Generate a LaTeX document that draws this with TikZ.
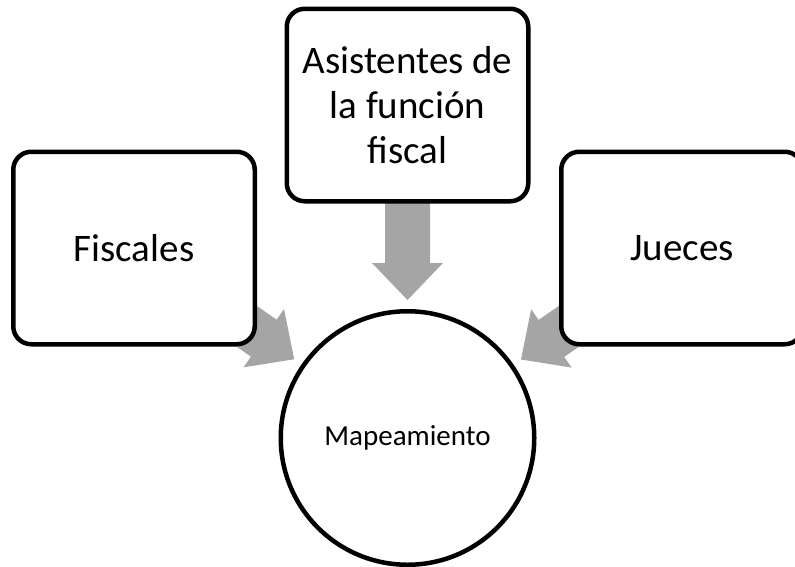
\documentclass[tikz,border=0pt]{standalone}
\usepackage{fontspec}
\setmainfont{Carlito}
\usetikzlibrary{calc}
\definecolor{arrowgray}{RGB}{165,165,165}
\pgfdeclarelayer{background}
\pgfsetlayers{background,main}
\tikzset{
  box/.style={draw=black, line width=4.5pt, rounded corners=18pt, fill=white,
    minimum width=241.5pt, minimum height=192.5pt, align=center, inner sep=0pt,
    font=\fontsize{39}{45}\selectfont},
  hub/.style={circle, draw=black, line width=4.5pt, fill=white,
    minimum size=253.5pt, inner sep=0pt, font=\fontsize{29}{35}\selectfont},
  flow/.style={fill=arrowgray, draw=none}
}
\newcommand\radialarrow[2]{%
  \coordinate (tip) at ($(#2.center)!138pt!(#1.center)$);
  \coordinate (base) at ($(#2.center)!175pt!(#1.center)$);
  \coordinate (start) at ($(#2.center)!275pt!(#1.center)$);
  \fill[flow] ($(start)!22.5pt!90:(base)$) -- ($(base)!22.5pt!90:(tip)$)
    -- ($(base)!35.5pt!90:(tip)$) -- (tip) -- ($(base)!35.5pt!-90:(tip)$)
    -- ($(base)!22.5pt!-90:(tip)$) -- ($(start)!22.5pt!-90:(base)$) -- cycle;
}
\begin{document}
\begin{tikzpicture}[x=1pt,y=-1pt]
\useasboundingbox (0,0) rectangle (795,566);
\clip (0,0) rectangle (795,566);
\node[hub] (M) at (407.5,438) {Mapeamiento};
\node[box] (F) at (134,248) {Fiscales};
\node[box] (A) at (407.5,105) {Asistentes de\\la función\\fiscal};
\node[box] (J) at (682,248) {Jueces};
\begin{pgfonlayer}{background}
  \radialarrow{F}{M}
  \radialarrow{A}{M}
  \radialarrow{J}{M}
\end{pgfonlayer}
\end{tikzpicture}
\end{document}
